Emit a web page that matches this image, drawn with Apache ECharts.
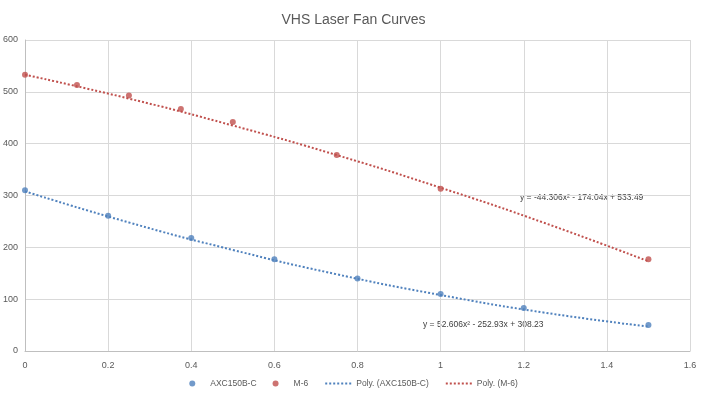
<!DOCTYPE html>
<html>
<head>
<meta charset="utf-8">
<script src="https://cdn.jsdelivr.net/npm/echarts@6/dist/echarts.min.js"></script>
<style>
  html, body { margin: 0; padding: 0; background: #fff; }
  #chart { width: 707px; height: 399px; }
</style>
</head>
<body>
<div id="chart"></div>
<script>
// measured points
const axcX = [0, 0.2, 0.4, 0.6, 0.8, 1.0, 1.2, 1.5]
const axcY = [310, 261, 218, 177, 140, 110, 83, 50]
const m6X = [0, 0.125, 0.25, 0.375, 0.5, 0.75, 1.0, 1.5]
const m6Y = [533, 513, 493, 467, 442, 378, 313, 177]

// trend curves
const trendX = [0, 0.25, 0.5, 0.75, 1.0, 1.25, 1.5]
const axcTrendY = [308, 248, 195, 148, 108, 74, 47]
const m6TrendY = [533, 487, 435, 378, 315, 247, 173]

const blue = '#4f81bd'
const red = '#c0504d'
const textColor = '#595959'

const zip = (xs, ys) => xs.map((x, i) => [x, ys[i]])

const chart = echarts.init(document.getElementById('chart'))

const option = {
  animation: false,
  title: {
    text: 'VHS Laser Fan Curves',
    left: 'center',
    top: 8,
    textStyle: { color: textColor, fontSize: 14, fontWeight: 'normal', fontFamily: 'Liberation Sans' }
  },
  legend: {
    bottom: 6,
    left: 'center',
    itemWidth: 26,
    itemHeight: 6,
    itemGap: 16,
    textStyle: { color: textColor, fontSize: 8.5, fontFamily: 'Liberation Sans' },
    data: [
      { name: 'AXC150B-C', icon: 'circle' },
      { name: 'M-6', icon: 'circle' },
      { name: 'Poly. (AXC150B-C)', itemStyle: { opacity: 0 } },
      { name: 'Poly. (M-6)', itemStyle: { opacity: 0 } }
    ]
  },
  grid: { left: 25, right: 17, top: 40, bottom: 48, outerBoundsMode: 'none', containLabel: false },
  xAxis: {
    type: 'value',
    min: 0,
    max: 1.6,
    interval: 0.2,
    axisLine: { lineStyle: { color: '#bfbfbf' } },
    axisTick: { show: false },
    axisLabel: { color: textColor, fontSize: 9, margin: 10, fontFamily: 'Liberation Sans',
      formatter: v => String(Math.round(v * 10) / 10) },
    splitLine: { lineStyle: { color: '#d9d9d9' } }
  },
  yAxis: {
    type: 'value',
    min: 0,
    max: 600,
    interval: 100,
    axisLine: { show: true, lineStyle: { color: '#bfbfbf' } },
    axisTick: { show: false },
    axisLabel: { color: textColor, fontSize: 9, margin: 7, fontFamily: 'Liberation Sans' },
    splitLine: { lineStyle: { color: '#d9d9d9' } }
  },
  series: [
    {
      name: 'AXC150B-C',
      type: 'scatter',
      data: zip(axcX, axcY),
      symbolSize: 6,
      itemStyle: { color: blue },
      z: 5
    },
    {
      name: 'M-6',
      type: 'scatter',
      data: zip(m6X, m6Y),
      symbolSize: 6,
      itemStyle: { color: red },
      z: 5
    },
    {
      name: 'Poly. (AXC150B-C)',
      type: 'line',
      data: zip(trendX, axcTrendY),
      smooth: true,
      symbol: 'none',
      itemStyle: { color: blue },
      lineStyle: { color: blue, width: 2, type: [2, 2] }
    },
    {
      name: 'Poly. (M-6)',
      type: 'line',
      data: zip(trendX, m6TrendY),
      smooth: true,
      symbol: 'none',
      itemStyle: { color: red },
      lineStyle: { color: red, width: 2, type: [2, 2] }
    }
  ],
  graphic: [
    {
      type: 'text',
      left: 520,
      top: 193,
      style: { text: 'y = -44.306x² - 174.04x + 533.49', fill: '#404040', fontSize: 8.5, fontFamily: 'Liberation Sans' }
    },
    {
      type: 'text',
      left: 423,
      top: 320,
      style: { text: 'y = 52.606x² - 252.93x + 308.23', fill: '#404040', fontSize: 8.5, fontFamily: 'Liberation Sans' }
    }
  ]
}

chart.setOption(option)
</script>
</body>
</html>
